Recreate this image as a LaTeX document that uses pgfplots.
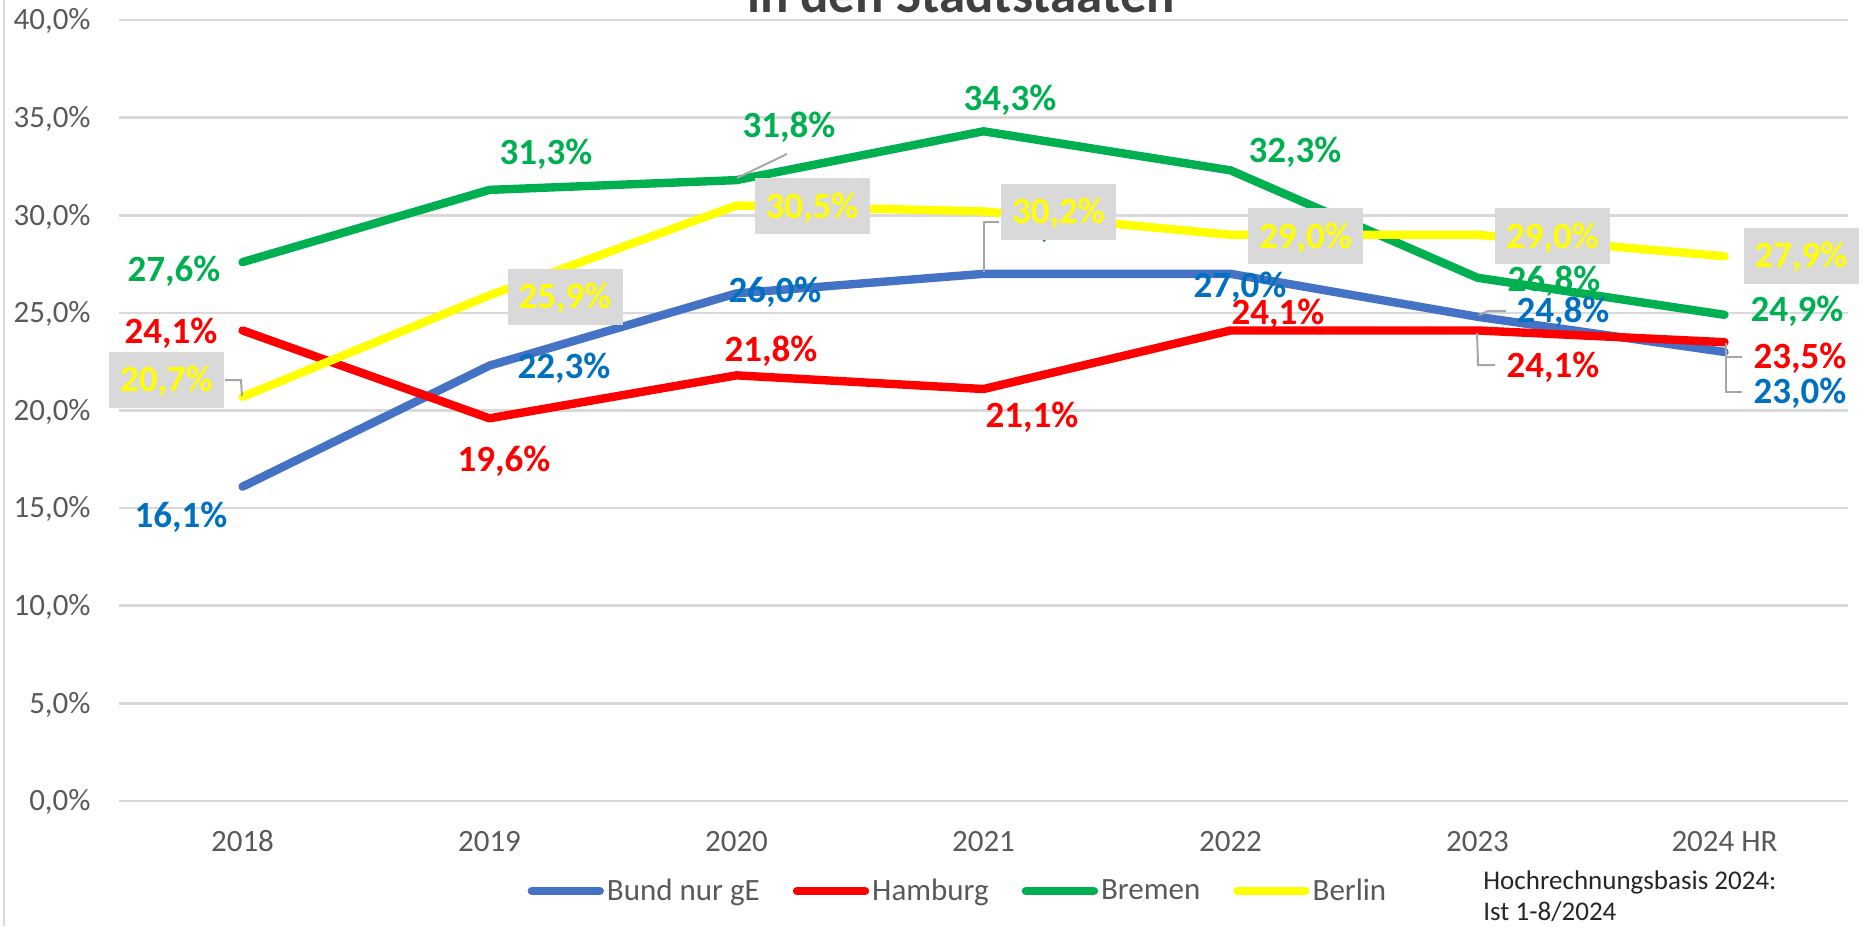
\documentclass[border=0pt]{standalone}
\usepackage{fontspec}
\setmainfont{Carlito}
\usepackage{pgfplots}
\pgfplotsset{compat=1.18}
\definecolor{bundline}{HTML}{4472C4}
\definecolor{bundlab}{HTML}{0070C0}
\definecolor{hhred}{HTML}{FF0000}
\definecolor{hbgreen}{HTML}{00B050}
\definecolor{beyellow}{HTML}{FFFF00}
\definecolor{boxgray}{HTML}{D9D9D9}
\definecolor{gridgray}{HTML}{D9D9D9}
\definecolor{tickgray}{HTML}{595959}
\definecolor{leadgray}{HTML}{A6A6A6}
\definecolor{titlegray}{HTML}{404040}
\tikzset{
  lab/.style={font=\bfseries\fontsize{18.5}{20}\selectfont, inner sep=0pt, anchor=center, text height=11.7pt, text depth=0pt},
  ybox/.style={lab, fill=boxgray, text=beyellow, minimum width=57.5pt, minimum height=28pt},
}
\begin{document}
\begin{tikzpicture}
\begin{axis}[
  at={(59.5pt,-400.5pt)}, anchor=south west,
  scale only axis, width=864.5pt, height=390.5pt,
  xmin=-0.5, xmax=6.5, ymin=0, ymax=40,
  clip=false,
  xtick={0,1,2,3,4,5,6},
  xticklabels={2018,2019,2020,2021,2022,2023,2024 HR},
  ytick={0,5,10,15,20,25,30,35,40},
  yticklabels={{0,0\%},{5,0\%},{10,0\%},{15,0\%},{20,0\%},{25,0\%},{30,0\%},{35,0\%},{40,0\%}},
  ymajorgrids,
  major grid style={draw=gridgray, line width=1.3pt},
  axis line style={draw=none},
  major tick length=0pt,
  tick label style={font=\fontsize{15.5}{18}\selectfont, text=tickgray, inner sep=0pt, text height=9.8pt, text depth=0pt},
  xticklabel style={anchor=north, yshift=-15pt},
  yticklabel style={anchor=east, xshift=-14pt},
  legend style={at={(0.4855,-0.1152)}, anchor=center, draw=none, fill=none,
    legend columns=4, font=\fontsize{15.5}{18}\selectfont, text=tickgray,
    /tikz/every even column/.append style={column sep=15pt},
    inner sep=0pt, nodes={inner sep=1.5pt}},
  legend image code/.code={\draw[#1, line width=4.2pt, line cap=round] (0pt,0pt) -- (34pt,0pt);},
]
\addplot[bundline, line width=4.2pt, line join=round, line cap=round] coordinates {(0,16.1)(1,22.3)(2,26.0)(3,27.0)(4,27.0)(5,24.8)(6,23.0)};
\addlegendentry{Bund nur gE}
\addplot[hhred, line width=4.2pt, line join=round, line cap=round] coordinates {(0,24.1)(1,19.6)(2,21.8)(3,21.1)(4,24.1)(5,24.1)(6,23.5)};
\addlegendentry{Hamburg}
\addplot[hbgreen, line width=4.2pt, line join=round, line cap=round] coordinates {(0,27.6)(1,31.3)(2,31.8)(3,34.3)(4,32.3)(5,26.8)(6,24.9)};
\addlegendentry{Bremen}
\addplot[beyellow, line width=4.2pt, line join=round, line cap=round] coordinates {(0,20.7)(1,25.9)(2,30.5)(3,30.2)(4,29.0)(5,29.0)(6,27.9)};
\addlegendentry{Berlin}

% Bremen labels
\node[lab, text=hbgreen, xshift=-34.25pt, yshift=-4pt] at (axis cs:0,27.6) {27,6\%};
\node[lab, text=hbgreen, xshift=28.25pt, yshift=18.5pt] at (axis cs:1,31.3) {31,3\%};
\node[lab, text=hbgreen, xshift=26.25pt, yshift=27pt] at (axis cs:2,31.8) {31,8\%};
\node[lab, text=hbgreen, xshift=13.25pt, yshift=16.5pt] at (axis cs:3,34.3) {34,3\%};
\node[lab, text=hbgreen, xshift=32.25pt, yshift=10pt] at (axis cs:4,32.3) {32,3\%};
\node[lab, text=hbgreen, xshift=38.25pt, yshift=-1pt] at (axis cs:5,26.8) {26,8\%};
\node[lab, text=hbgreen, xshift=36.25pt, yshift=2.5pt] at (axis cs:6,24.9) {24,9\%};
% Hamburg labels
\node[lab, text=hhred, xshift=-35.75pt, yshift=-0.75pt] at (axis cs:0,24.1) {24,1\%};
\node[lab, text=hhred, xshift=7.25pt, yshift=-20.5pt] at (axis cs:1,19.6) {19,6\%};
\node[lab, text=hhred, xshift=17.25pt, yshift=13pt] at (axis cs:2,21.8) {21,8\%};
\node[lab, text=hhred, xshift=24.25pt, yshift=-13.5pt] at (axis cs:3,21.1) {21,1\%};
\node[lab, text=hhred, xshift=23.75pt, yshift=8.75pt] at (axis cs:4,24.1) {24,1\%};
\node[lab, text=hhred, xshift=37.75pt, yshift=-17.75pt] at (axis cs:5,24.1) {24,1\%};
\node[lab, text=hhred, xshift=37.75pt, yshift=-7.5pt] at (axis cs:6,23.5) {23,5\%};
% Bund labels
\node[lab, text=bundlab, xshift=-30.75pt, yshift=-14.75pt] at (axis cs:0,16.1) {16,1\%};
\node[lab, text=bundlab, xshift=37.25pt, yshift=-0.75pt] at (axis cs:1,22.3) {22,3\%};
\node[lab, text=bundlab, xshift=19.25pt, yshift=1.25pt] at (axis cs:2,26.0) {26,0\%};
\node[lab, text=bundlab, xshift=33pt, yshift=24pt] at (axis cs:3,27.0) {27,0\%};
\node[lab, text=bundlab, xshift=4.75pt, yshift=-6pt] at (axis cs:4,27.0) {27,0\%};
\node[lab, text=bundlab, xshift=42.75pt, yshift=3pt] at (axis cs:5,24.8) {24,8\%};
\node[lab, text=bundlab, xshift=37.75pt, yshift=-20pt] at (axis cs:6,23.0) {23,0\%};
% Berlin labels (boxes)
\node[ybox, xshift=-38pt, yshift=8.65pt] at (axis cs:0,20.7) {20,7\%};
\node[ybox, xshift=37.75pt, yshift=-0.6pt] at (axis cs:1,25.9) {25,9\%};
\node[ybox, xshift=37.75pt, yshift=-0.5pt] at (axis cs:2,30.5) {30,5\%};
\node[ybox, xshift=37.5pt, yshift=-0.35pt] at (axis cs:3,30.2) {30,2\%};
\node[ybox, xshift=37.5pt, yshift=-0.85pt] at (axis cs:4,29.0) {29,0\%};
\node[ybox, xshift=37.5pt, yshift=-0.85pt] at (axis cs:5,29.0) {29,0\%};
\node[ybox, xshift=38.25pt, yshift=0pt] at (axis cs:6,27.9) {27,9\%};
\end{axis}
\begin{scope}[x=0.5pt, y=-0.5pt]
  % chart border
  \draw[gridgray, line width=1pt] (3.5,0) -- (3.5,926);
  % leader lines
  \begin{scope}[leadgray, line width=1pt]
    \draw (225,380) -- (241,380) -- (242,396);
    \draw (737,178) -- (787,154);
    \draw (999,222) -- (984,222) -- (984,272);
    \draw (1479,315) -- (1488,311) -- (1506,311);
    \draw (1477,333) -- (1478,365) -- (1495,365);
    \draw (1726,343) -- (1726,357) -- (1742,357);
    \draw (1726,350) -- (1726,392) -- (1742,392);
  \end{scope}
  % title (cut off at top)
  \node[anchor=base, font=\bfseries\fontsize{26.5}{30}\selectfont, text=titlegray, inner sep=0pt] at (961,12) {in den Stadtstaaten};
  % note
  \node[anchor=base west, font=\fontsize{13.5}{15.3}\selectfont, text=black!85, inner sep=0pt] at (1483,889) {Hochrechnungsbasis 2024:};
  \node[anchor=base west, font=\fontsize{13.5}{15.3}\selectfont, text=black!85, inner sep=0pt] at (1483,920) {Ist 1-8/2024};
\end{scope}
\pgfresetboundingbox
\useasboundingbox (0pt,0pt) rectangle (933pt,-463pt);
\end{tikzpicture}
\end{document}
